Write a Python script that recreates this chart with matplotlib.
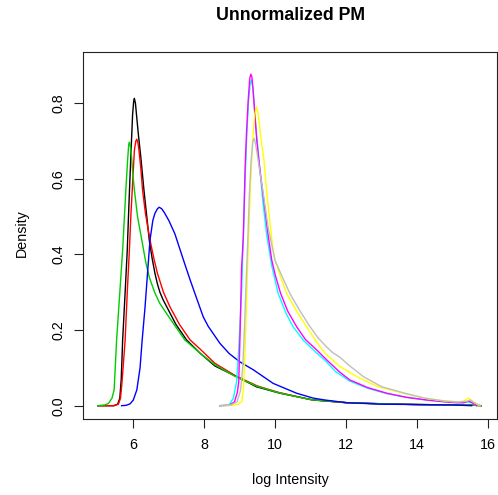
import matplotlib
matplotlib.use("Agg")
import matplotlib.pyplot as plt

plt.rcParams['font.family'] = ['Liberation Sans', 'DejaVu Sans']

# density curves (log intensity, density)
black_x = [5.00, 5.45, 5.56, 5.62, 5.66, 5.70, 5.77, 5.83, 5.88, 5.93, 5.98, 6.01, 6.03, 6.06, 6.10, 6.14,
           6.21, 6.30, 6.38, 6.45, 6.53, 6.61, 6.68, 6.75, 6.84, 6.94, 7.20, 7.50, 7.88, 8.30, 8.91, 9.47,
           10.13, 11.07, 12.0, 13.0, 14.0, 15.0, 15.5, 15.8]
black_y = [0, 0, 0.004, 0.02, 0.07, 0.174, 0.30, 0.412, 0.54, 0.659, 0.77, 0.805, 0.813, 0.80, 0.76, 0.72,
           0.659, 0.57, 0.50, 0.438, 0.39, 0.35, 0.322, 0.30, 0.28, 0.262, 0.215, 0.174, 0.139, 0.105, 0.077, 0.050,
           0.033, 0.015, 0.008, 0.005, 0.003, 0.002, 0.002, 0]

red_x = [5.00, 5.45, 5.58, 5.64, 5.68, 5.72, 5.77, 5.83, 5.89, 5.93, 5.97, 6.03, 6.07, 6.10, 6.13, 6.16,
         6.21, 6.26, 6.34, 6.42, 6.50, 6.59, 6.68, 6.85, 7.03, 7.30, 7.60, 7.88, 8.30, 8.90, 9.50, 10.10,
         11.0, 12.0, 13.0, 14.0, 15.0, 15.5, 15.8]
red_y = [0, 0, 0.004, 0.02, 0.06, 0.11, 0.174, 0.30, 0.412, 0.50, 0.571, 0.675, 0.70, 0.705, 0.695, 0.675,
         0.63, 0.571, 0.51, 0.465, 0.425, 0.385, 0.35, 0.30, 0.262, 0.215, 0.174, 0.150, 0.112, 0.078, 0.052, 0.035,
         0.016, 0.008, 0.005, 0.003, 0.002, 0.002, 0]

green_x = [5.00, 5.20, 5.30, 5.40, 5.46, 5.53, 5.62, 5.70, 5.79, 5.84, 5.87, 5.89, 5.92, 5.95, 5.98, 6.03,
           6.12, 6.24, 6.35, 6.45, 6.60, 6.75, 7.00, 7.45, 7.88, 8.30, 8.90, 9.50, 10.10, 11.0, 12.0, 13.0,
           14.0, 15.0, 15.5, 15.8]
green_y = [0, 0.002, 0.006, 0.02, 0.042, 0.174, 0.30, 0.412, 0.571, 0.65, 0.69, 0.697, 0.685, 0.66, 0.62, 0.571,
           0.50, 0.438, 0.38, 0.34, 0.30, 0.27, 0.235, 0.174, 0.139, 0.108, 0.076, 0.051, 0.034, 0.016, 0.008, 0.005,
           0.003, 0.002, 0.002, 0]

blue_x = [5.67, 5.80, 5.91, 6.00, 6.10, 6.19, 6.25, 6.33, 6.40, 6.47, 6.55, 6.61, 6.68, 6.73, 6.80, 6.88,
          7.00, 7.17, 7.32, 7.46, 7.60, 7.78, 7.97, 8.11, 8.44, 8.70, 9.00, 9.38, 9.94, 10.60, 11.07, 11.40,
          12.0, 13.0, 14.0, 15.0, 15.53]
blue_y = [0, 0.001, 0.005, 0.015, 0.042, 0.10, 0.174, 0.26, 0.35, 0.438, 0.49, 0.509, 0.521, 0.525, 0.521, 0.51,
          0.49, 0.455, 0.412, 0.372, 0.333, 0.285, 0.235, 0.21, 0.165, 0.138, 0.116, 0.095, 0.059, 0.033, 0.02, 0.015,
          0.008, 0.004, 0.003, 0.002, 0]

cyan_x = [8.44, 8.70, 8.82, 8.91, 8.97, 9.05, 9.10, 9.15, 9.19, 9.24, 9.29, 9.33, 9.37, 9.41, 9.45,
          9.50, 9.56, 9.65, 9.76, 9.90, 10.08, 10.30, 10.50, 10.80, 11.10, 11.40, 11.70, 12.10, 12.6, 13.14,
          13.7, 14.27, 14.8, 15.1, 15.3, 15.44, 15.55, 15.67]
cyan_y = [0, 0.002, 0.02, 0.063, 0.15, 0.30, 0.45, 0.60, 0.70, 0.80, 0.85, 0.862, 0.84, 0.79, 0.74,
          0.69, 0.63, 0.54, 0.45, 0.37, 0.297, 0.245, 0.209, 0.172, 0.145, 0.12, 0.09, 0.065, 0.046, 0.032,
          0.022, 0.015, 0.01, 0.008, 0.008, 0.01, 0.007, 0]

magenta_x = [8.44, 8.70, 8.85, 8.93, 8.97, 9.01, 9.05, 9.10, 9.15, 9.19, 9.24, 9.28, 9.31, 9.34, 9.37,
             9.41, 9.45, 9.48, 9.56, 9.65, 9.80, 9.90, 10.0, 10.15, 10.35, 10.60, 10.85, 11.17, 11.45, 11.8,
             12.10, 12.6, 13.14, 13.7, 14.27, 14.8, 15.1, 15.30, 15.44, 15.55, 15.67]
magenta_y = [0, 0.001, 0.01, 0.035, 0.063, 0.20, 0.363, 0.45, 0.63, 0.725, 0.813, 0.865, 0.877, 0.87, 0.84,
             0.79, 0.738, 0.70, 0.63, 0.562, 0.45, 0.385, 0.345, 0.297, 0.25, 0.209, 0.175, 0.147, 0.121, 0.09,
             0.068, 0.048, 0.033, 0.022, 0.015, 0.01, 0.008, 0.008, 0.012, 0.008, 0]

yellow_x = [8.50, 8.80, 8.95, 9.05, 9.10, 9.15, 9.19, 9.24, 9.30, 9.36, 9.42, 9.47, 9.52, 9.58, 9.62,
            9.68, 9.76, 9.92, 9.99, 10.15, 10.32, 10.60, 10.88, 11.15, 11.40, 11.8, 12.29, 12.9, 13.6, 14.2,
            14.73, 15.1, 15.3, 15.44, 15.58, 15.75]
yellow_y = [0, 0.001, 0.004, 0.01, 0.04, 0.15, 0.275, 0.425, 0.58, 0.70, 0.77, 0.791, 0.77, 0.72, 0.69,
            0.65, 0.562, 0.425, 0.385, 0.34, 0.297, 0.25, 0.209, 0.17, 0.139, 0.105, 0.077, 0.05, 0.033, 0.02,
            0.013, 0.01, 0.012, 0.02, 0.01, 0]

gray_x = [8.44, 8.75, 8.92, 9.02, 9.08, 9.13, 9.18, 9.23, 9.27, 9.32, 9.37, 9.41, 9.45, 9.50, 9.58,
          9.66, 9.80, 9.99, 10.20, 10.41, 10.70, 10.98, 11.20, 11.45, 11.62, 11.82, 12.10, 12.48, 13.0, 13.65,
          14.2, 14.8, 15.2, 15.4, 15.5, 15.6, 15.78]
gray_y = [0, 0.002, 0.01, 0.04, 0.10, 0.20, 0.33, 0.45, 0.56, 0.65, 0.70, 0.707, 0.69, 0.66, 0.61,
          0.562, 0.47, 0.385, 0.34, 0.297, 0.25, 0.209, 0.18, 0.155, 0.14, 0.128, 0.105, 0.077, 0.05, 0.033,
          0.02, 0.012, 0.01, 0.012, 0.015, 0.008, 0]

curves = [(black_x, black_y, "black"), (red_x, red_y, "#FF0000"), (green_x, green_y, "#00CD00"),
          (blue_x, blue_y, "#0000FF"), (cyan_x, cyan_y, "#00FFFF"), (magenta_x, magenta_y, "#FF00FF"),
          (yellow_x, yellow_y, "#FFFF00"), (gray_x, gray_y, "#BEBEBE")]

W, H = 498, 495
fig = plt.figure(figsize=(W / 100, H / 100), dpi=100)
ax = fig.add_axes([83 / W, 1 - 419 / H, (497 - 83) / W, (419 - 52) / H])

for xs, ys, col in curves:
    ax.plot(xs, ys, color=col, lw=1.0)

ax.set_xlim(4.583, 16.245)
ax.set_ylim(-0.0352, 0.9357)
ax.set_xticks([6, 8, 10, 12, 14, 16])
ax.set_yticks([0.0, 0.2, 0.4, 0.6, 0.8])
ax.set_yticklabels(["0.0", "0.2", "0.4", "0.6", "0.8"], rotation=90, va="center")
ax.tick_params(length=6.5, width=0.8, labelsize=10.3, color="#222222")
ax.tick_params(axis="x", pad=7)
ax.tick_params(axis="y", pad=6)
for s in ax.spines.values():
    s.set_linewidth(0.8)
    s.set_color("#222222")

fig.text(291 / W, 1 - 15 / H, "Unnormalized PM", ha="center", va="center",
         fontsize=12.8, fontweight="bold")
fig.text(290 / W, 1 - 480 / H, "log Intensity", ha="center", va="center", fontsize=10.3)
fig.text(22 / W, 1 - 233 / H, "Density", ha="center", va="center", rotation=90, fontsize=10.3)

fig.savefig("out.png", dpi=100)
